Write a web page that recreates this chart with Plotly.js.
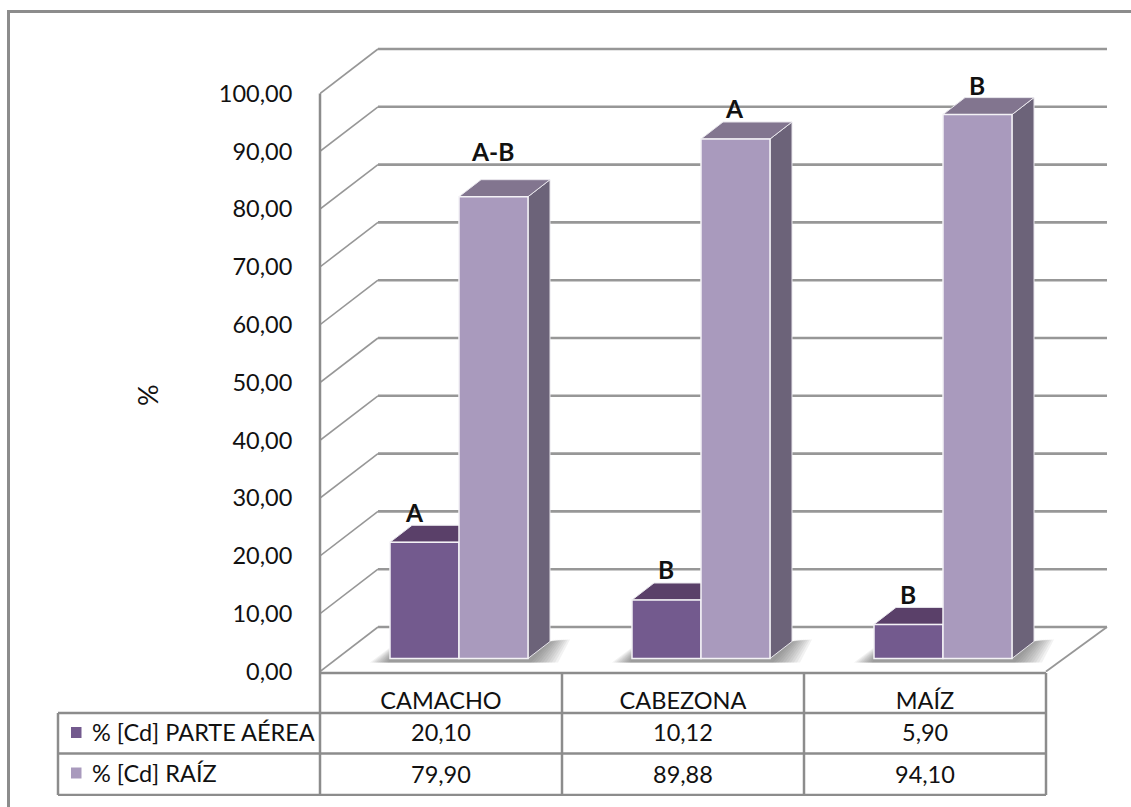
<!DOCTYPE html>
<html>
<head>
<meta charset="utf-8">
<script src="https://cdn.plot.ly/plotly-3.0.1.min.js"></script>
<style>html,body{margin:0;padding:0;background:#fff}#chart{width:1131px;height:807px}</style>
</head>
<body>
<div id="chart"></div>
<script>
// Cadmium share by plant part
const categories = ['CAMACHO', 'CABEZONA', 'MAÍZ'];
const aerialName = '% [Cd] PARTE AÉREA';
const rootName = '% [Cd] RAÍZ';
const aerialValues = [20.10, 10.12, 5.90];
const rootValues = [79.90, 89.88, 94.10];
const aerialLetters = ['A', 'B', 'B'];
const rootLetters = ['A-B', 'A', 'B'];
const yTicks = [0, 10, 20, 30, 40, 50, 60, 70, 80, 90, 100];

// Page geometry: the plot area also spans the table under the chart
const W = 1131, H = 807;
const M = {l: 320, r: 21, t: 40, b: 11};
const pxPerCat = 242, pxPerPct = 5.78, zeroPx = 671.5;
const dxOf = px => px / pxPerCat;
const dyOf = px => px / pxPerPct;
const yAt = px => (zeroPx - px) / pxPerPct;
const paperX = px => (px - M.l) / (W - M.l - M.r);
const paperY = px => (H - M.b - px) / (H - M.t - M.b);

const C = {
  aerial: '#735a8e', aerialTop: '#5a4069', aerialSide: '#55405f',
  root: '#a99abd', rootTop: '#82758f', rootSide: '#6c6379',
  line: '#979797', frame: '#8c8c8c', text: '#111111'
};

// 3-D projection offsets
const wallDx = dxOf(58), wallDy = dyOf(44.5);
const groupDx = dxOf(18), floorLift = dyOf(13);
const barW = dxOf(69), depthDx = dxOf(22), depthDy = dyOf(17);
const centers = categories.map((_, i) => i + 0.5 + groupDx);

const poly = pts => 'M' + pts.map(p => p[0] + ',' + p[1]).join('L') + 'Z';
const dataPoly = (pts, fill, line, w) => ({
  type: 'path', xref: 'x', yref: 'y', layer: 'below', path: poly(pts),
  fillcolor: fill, line: {color: line || 'rgba(0,0,0,0)', width: w || 0}
});
const dataLine = (x0, y0, x1, y1, color, width) => ({
  type: 'line', xref: 'x', yref: 'y', layer: 'below', x0, y0, x1, y1,
  line: {color, width}
});
const tableLine = (xa, ya, xb, yb) => ({
  type: 'line', xref: 'paper', yref: 'y', layer: 'above',
  x0: paperX(xa), y0: yAt(ya), x1: paperX(xb), y1: yAt(yb),
  line: {color: C.frame, width: 2.5}
});

const shapes = [];

// Side wall and back wall gridlines
const backEnd = categories.length + wallDx + dxOf(3);
yTicks.forEach(v => {
  shapes.push(dataLine(0, v, wallDx, v + wallDy, C.line, 1.6));
  shapes.push(dataLine(wallDx, v + wallDy, backEnd, v + wallDy, C.line, 2.6));
});
// Right edge of the floor
shapes.push(dataLine(categories.length, 0, backEnd, wallDy, C.line, 1.8));

// Soft floor shadows around each bar pair, built up from thin translucent layers
const shadowSteps = [1, 0.9, 0.8, 0.7, 0.6, 0.5, 0.4, 0.3, 0.2, 0.1];
centers.forEach(c => {
  const xL = c - barW, xR = c + barW, b = floorLift;
  shadowSteps.forEach(k => {
    shapes.push(dataPoly([
      [xL - dxOf(20 * k), b - dyOf(4)],
      [xL, b + dyOf(11 * k)],
      [xR + depthDx, b + depthDy],
      [xR + depthDx + dxOf(20 * k), b + depthDy + dyOf(2)],
      [xR + dxOf(30 * k), b - dyOf(4)]
    ], 'rgba(70,70,70,0.07)'));
  });
});

// Top and side faces of the bars, derived from the values
const addFaces = (values, leftOf, top, side) => {
  values.forEach((v, i) => {
    const xl = leftOf(i), xr = xl + barW, t = floorLift + v;
    shapes.push(dataPoly([[xr, floorLift], [xr + depthDx, floorLift + depthDy], [xr + depthDx, t + depthDy], [xr, t]], side, '#e8e6ec', 1));
    shapes.push(dataPoly([[xl, t], [xl + depthDx, t + depthDy], [xr + depthDx, t + depthDy], [xr, t]], top, '#e8e6ec', 1));
  });
};
addFaces(aerialValues, i => centers[i] - barW, C.aerialTop, C.aerialSide);
addFaces(rootValues, i => centers[i], C.rootTop, C.rootSide);

// Outer frame
shapes.push({type: 'line', xref: 'paper', yref: 'paper', layer: 'above', x0: paperX(8.5), x1: paperX(8.5), y0: paperY(10), y1: paperY(807), line: {color: C.frame, width: 3}});
shapes.push({type: 'line', xref: 'paper', yref: 'paper', layer: 'above', x0: paperX(7), x1: paperX(1131), y0: paperY(11.5), y1: paperY(11.5), line: {color: C.frame, width: 3}});

// Data table rules
const tableTop = 673, rowA = 713, rowB = 753.5, tableBottom = 795, tableLeft = 58;
const colEdges = categories.map((_, i) => M.l + pxPerCat * i).concat(M.l + pxPerCat * categories.length);
shapes.push(tableLine(M.l, tableTop, colEdges[3], tableTop));
shapes.push(tableLine(tableLeft, rowA, colEdges[3], rowA));
shapes.push(tableLine(tableLeft, rowB, colEdges[3], rowB));
shapes.push(tableLine(tableLeft, tableBottom, colEdges[3], tableBottom));
shapes.push(tableLine(tableLeft, rowA, tableLeft, tableBottom));
shapes.push(tableLine(M.l, zeroPx - 100 * pxPerPct, M.l, tableBottom));
colEdges.slice(1).forEach(e => shapes.push(tableLine(e, tableTop, e, tableBottom)));

// Legend keys in the table
[[rowA, C.aerial], [rowB, C.root]].forEach(([top, color]) => {
  shapes.push({type: 'rect', xref: 'paper', yref: 'y', layer: 'above',
    x0: paperX(71), x1: paperX(81.5), y0: yAt(top + 14), y1: yAt(top + 25),
    fillcolor: color, line: {width: 0}});
});

const fontFamily = 'Lato, "Open Sans", sans-serif';
const textSize = 23.5;
const annotations = [];
const note = (o, size, weight) => annotations.push(Object.assign({
  showarrow: false, xanchor: 'center', yanchor: 'middle',
  font: {family: fontFamily, size: size || textSize, color: C.text, weight: weight || 400}
}, o));

// Significance letters above the bars
const aerialLift = [30, 31, 30], rootLift = [45, 30, 29];
const aerialShift = [-10, -1, -1], rootShift = [-1, -1, -1];
aerialValues.forEach((v, i) => note({
  xref: 'x', yref: 'y', text: aerialLetters[i],
  x: centers[i] - barW / 2 + dxOf(aerialShift[i]), y: floorLift + v + dyOf(aerialLift[i])
}, 24.5, 700));
rootValues.forEach((v, i) => note({
  xref: 'x', yref: 'y', text: rootLetters[i],
  x: centers[i] + barW / 2 + dxOf(rootShift[i]), y: floorLift + v + dyOf(rootLift[i])
}, 24.5, 700));

// Table cells
const fmt = v => v.toFixed(2).replace('.', ',');
[[aerialValues, 732], [rootValues, 774]].forEach(([vals, py]) => {
  vals.forEach((v, i) => note({xref: 'x', yref: 'y', x: i + 0.5, y: yAt(py), text: fmt(v)}));
});
[[aerialName, 732], [rootName, 773]].forEach(([t, py]) => note({
  xref: 'paper', yref: 'y', x: paperX(90), y: yAt(py), xanchor: 'left', text: t
}));

// Value axis caption
note({xref: 'paper', yref: 'paper', x: paperX(148), y: paperY(395), text: '%', textangle: -90}, 27);

const traceBase = {
  type: 'bar', base: categories.map(() => floorLift), width: barW,
  x: centers, hoverinfo: 'skip', showlegend: false
};
const traces = [
  Object.assign({}, traceBase, {name: aerialName, y: aerialValues, offset: -barW,
    marker: {color: C.aerial, line: {color: '#f4f2f6', width: 1.5}}}),
  Object.assign({}, traceBase, {name: rootName, y: rootValues, offset: 0,
    marker: {color: C.root, line: {color: '#f4f2f6', width: 1.5}}})
];

const layout = {
  width: W, height: H, margin: M, autosize: false,
  paper_bgcolor: '#fff', plot_bgcolor: '#fff',
  separators: ',.', barmode: 'overlay', showlegend: false,
  font: {family: fontFamily, size: textSize, color: C.text},
  xaxis: {
    type: 'linear', range: [0, (W - M.l - M.r) / pxPerCat],
    anchor: 'free', position: paperY(673),
    tickmode: 'array', tickvals: categories.map((_, i) => i + 0.5), ticktext: categories,
    ticks: 'outside', ticklen: 7, tickcolor: 'rgba(0,0,0,0)',
    showgrid: false, zeroline: false, showline: false,
    tickfont: {family: fontFamily, size: textSize, color: C.text}
  },
  yaxis: {
    type: 'linear', range: [yAt(H - M.b), yAt(M.t)],
    tickmode: 'array', tickvals: yTicks, tickformat: '.2f',
    ticks: 'outside', ticklen: 22, tickcolor: 'rgba(0,0,0,0)',
    showgrid: false, zeroline: false, showline: false,
    tickfont: {family: fontFamily, size: textSize, color: C.text}
  },
  shapes, annotations
};

Plotly.newPlot('chart', traces, layout, {displayModeBar: false, staticPlot: true});
</script>
</body>
</html>
